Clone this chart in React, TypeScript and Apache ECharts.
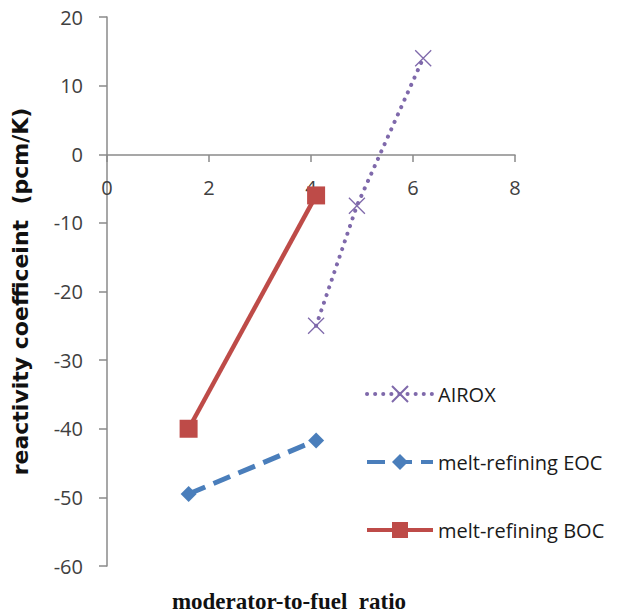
import React, { useEffect, useRef } from "react";
import * as echarts from "echarts";

const airoxX = [4.1, 4.9, 6.2];
const airoxY = [-25, -7.5, 14];
const eocX = [1.6, 4.1];
const eocY = [-49.5, -41.7];
const bocX = [1.6, 4.1];
const bocY = [-40, -6];
const seriesNames = ["AIROX", "melt-refining EOC", "melt-refining BOC"];
const xTitle = "moderator-to-fuel  ratio";
const yTitle = "reactivity coefficeint  (pcm/K)";

const pairs = (xs: number[], ys: number[]) => xs.map((x, i) => [x, ys[i]]);

export default function App() {
  const ref = useRef<HTMLDivElement>(null);
  useEffect(() => {
    if (!ref.current) return;
    const chart = echarts.init(ref.current, null, { renderer: "svg" });
    const axisColor = "#8a8a8a";
    const labelFont = { fontFamily: "Open Sans", fontSize: 20, color: "#404040" };
    chart.setOption({
      animation: false,
      backgroundColor: "#ffffff",
      grid: { left: 107, top: 17, right: 109, bottom: 49, containLabel: false },
      xAxis: {
        type: "value",
        min: 0,
        max: 8,
        interval: 2,
        offset: -411,
        splitLine: { show: false },
        axisLine: { onZero: false, lineStyle: { color: axisColor, width: 1.5 } },
        axisTick: { show: true, inside: false, length: 7, lineStyle: { color: axisColor, width: 1.5 } },
        axisLabel: { ...labelFont, margin: 22 },
      },
      yAxis: {
        type: "value",
        min: -60,
        max: 20,
        interval: 10,
        splitLine: { show: false },
        axisLine: { onZero: false, lineStyle: { color: axisColor, width: 1.5 } },
        axisTick: { show: true, inside: false, length: 8, lineStyle: { color: axisColor, width: 1.5 } },
        axisLabel: { ...labelFont, margin: 24 },
        name: yTitle,
        nameLocation: "middle",
        nameRotate: 90,
        nameGap: 76,
        nameTextStyle: { fontFamily: "DejaVu Sans", fontWeight: "bold", fontSize: 22, color: "#111" },
      },
      legend: {
        orient: "vertical",
        left: 360,
        top: 379,
        itemWidth: 66,
        itemHeight: 20,
        itemGap: 48,
        data: seriesNames,
        lineStyle: { width: 4 },
        textStyle: { fontFamily: "Open Sans", fontSize: 20, color: "#1a1a1a", lineHeight: 20 },
      },
      graphic: [
        {
          type: "text",
          x: 289,
          y: 601,
          style: {
            text: xTitle,
            fontFamily: "Liberation Serif",
            fontWeight: "bold",
            fontSize: 23,
            fill: "#111",
            textAlign: "center",
            textVerticalAlign: "middle",
          },
        },
      ],
      series: [
        {
          name: seriesNames[0],
          type: "line",
          data: pairs(airoxX, airoxY),
          symbol: "path://M0,0L10,10M10,0L0,10",
          symbolSize: 16,
          itemStyle: { color: "#7f69ab", borderColor: "#7f69ab", borderWidth: 1.3 },
          lineStyle: { color: "#7f69ab", width: 4, type: [0.1, 8], cap: "round" },
        },
        {
          name: seriesNames[1],
          type: "line",
          data: pairs(eocX, eocY),
          symbol: "diamond",
          symbolSize: 16,
          itemStyle: { color: "#4a7ebb" },
          lineStyle: { color: "#4a7ebb", width: 5, type: [18, 9] },
        },
        {
          name: seriesNames[2],
          type: "line",
          data: pairs(bocX, bocY),
          symbol: "rect",
          symbolSize: 18,
          itemStyle: { color: "#be4b48" },
          lineStyle: { color: "#be4b48", width: 4.5 },
        },
      ],
    });
    return () => chart.dispose();
  }, []);
  return <div ref={ref} style={{ width: 624, height: 615, position: "absolute", left: 0, top: 0 }} />;
}
